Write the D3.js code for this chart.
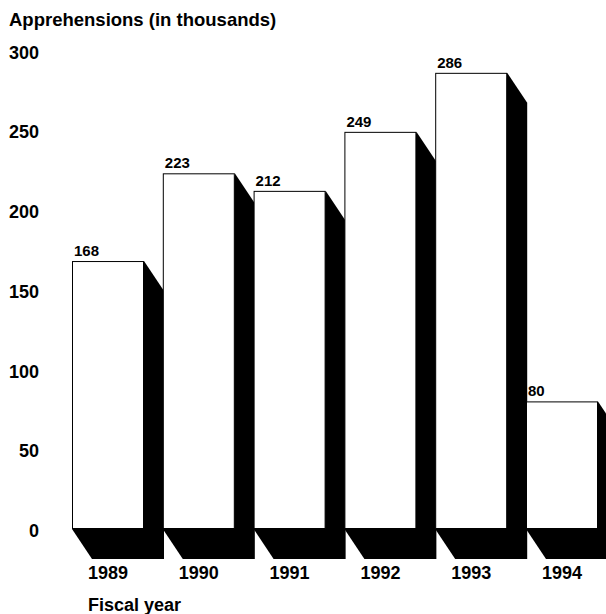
<!DOCTYPE html>
<html>
<head>
<meta charset="utf-8">
<script src="https://cdn.jsdelivr.net/npm/d3@7"></script>
<style>
  html, body { margin: 0; padding: 0; background: #fff; }
  svg { display: block; }
  text { font-family: "Liberation Sans", Arial, Helvetica, sans-serif; font-weight: bold; fill: #000; }
</style>
</head>
<body>
<div class="graphic"></div>
<script>
const years = ["1989", "1990", "1991", "1992", "1993", "1994"];
const apprehensions = [168, 223, 212, 249, 286, 80];
const yTicks = [0, 50, 100, 150, 200, 250, 300];

const width = 606;
const height = 614;
const depth = { dx: 20, dy: 30 };

const svg = d3.select(".graphic")
  .append("svg")
  .attr("width", width)
  .attr("height", height);

const x = d3.scaleBand()
  .domain(years)
  .range([72, 598])
  .paddingInner(0.207)
  .paddingOuter(0);

const y = d3.scaleLinear()
  .domain([0, 300])
  .range([529, 50.5]);

const data = years.map((yr, i) => ({ year: yr, value: apprehensions[i] }));

// y tick labels, no axis line
svg.append("g")
  .attr("class", "y-ticks")
  .selectAll("text")
  .data(yTicks)
  .enter().append("text")
  .attr("x", 39)
  .attr("y", d => y(d) + 8)
  .attr("text-anchor", "end")
  .style("font-size", "18px")
  .text(d => d);

// bars: black shadow first, then the white face
const bars = svg.append("g").attr("class", "bars")
  .selectAll("g")
  .data(data)
  .enter().append("g");

bars.append("path")
  .attr("fill", "#000")
  .attr("d", d => {
    const l = x(d.year), r = l + x.bandwidth();
    const t = y(d.value), b = y(0);
    return `M${r},${t} L${r + depth.dx},${t + depth.dy} L${r + depth.dx},${b + depth.dy} ` +
      `L${l + depth.dx},${b + depth.dy} L${l},${b} Z`;
  });

bars.append("rect")
  .attr("x", d => x(d.year) + 0.5)
  .attr("y", d => y(d.value) + 0.5)
  .attr("width", x.bandwidth() - 1)
  .attr("height", d => y(0) - y(d.value) - 1)
  .attr("fill", "#fff")
  .attr("stroke", "#000")
  .attr("stroke-width", 1);

bars.append("text")
  .attr("x", d => x(d.year) + 2)
  .attr("y", d => y(d.value) - 5)
  .style("font-size", "15px")
  .text(d => d.value);

// year labels
svg.append("g")
  .attr("class", "x-labels")
  .selectAll("text")
  .data(years)
  .enter().append("text")
  .attr("x", d => x(d) + x.bandwidth() / 2)
  .attr("y", 579)
  .attr("text-anchor", "middle")
  .style("font-size", "18px")
  .text(d => d);

svg.append("text")
  .attr("x", 9)
  .attr("y", 26)
  .style("font-size", "18.5px")
  .text("Apprehensions (in thousands)");

svg.append("text")
  .attr("x", 88)
  .attr("y", 611)
  .style("font-size", "18px")
  .text("Fiscal year");
</script>
</body>
</html>
